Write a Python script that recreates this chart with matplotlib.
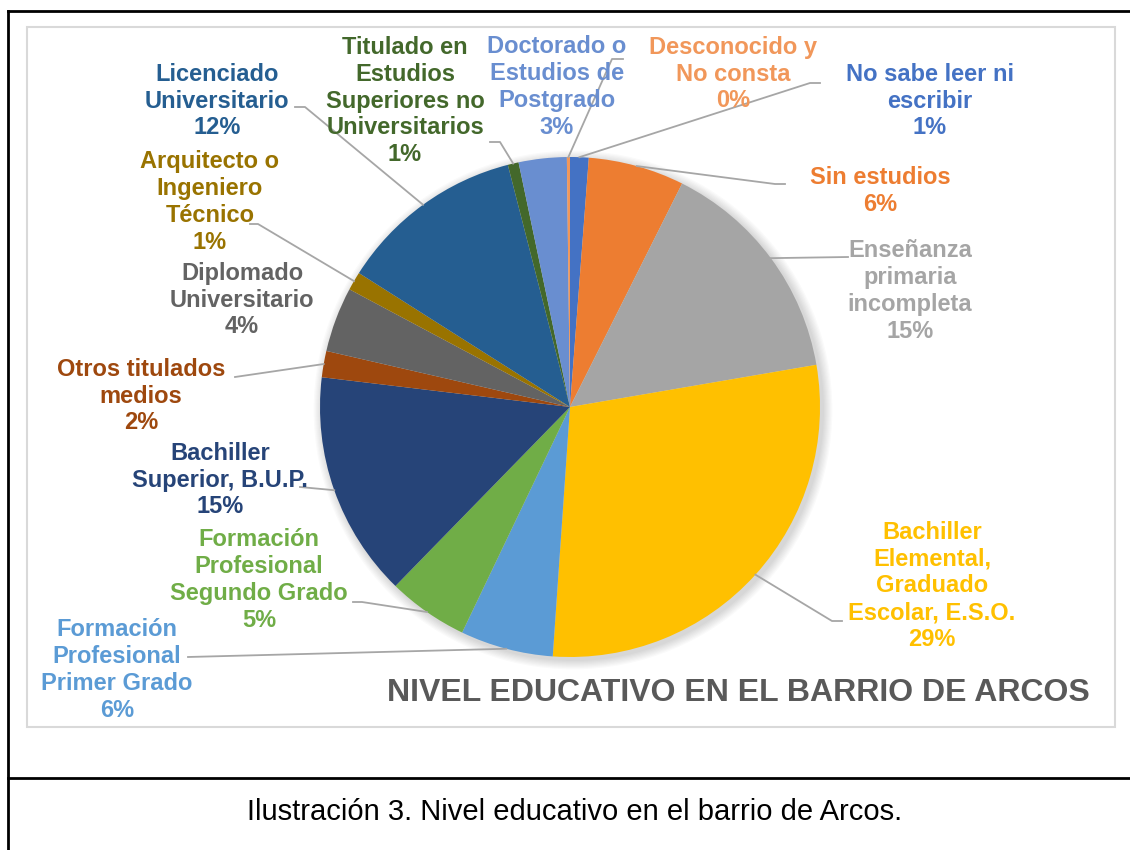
import numpy as np
import matplotlib.pyplot as plt
from matplotlib.patches import Rectangle, Circle

plt.rcParams['font.family'] = ['Liberation Sans', 'DejaVu Sans']

# data, clockwise from the top of the pie
categories = [
    "No sabe leer ni\nescribir",
    "Sin estudios",
    "Enseñanza\nprimaria\nincompleta",
    "Bachiller\nElemental,\nGraduado\nEscolar, E.S.O.",
    "Formación\nProfesional\nPrimer Grado",
    "Formación\nProfesional\nSegundo Grado",
    "Bachiller\nSuperior, B.U.P.",
    "Otros titulados\nmedios",
    "Diplomado\nUniversitario",
    "Arquitecto o\nIngeniero\nTécnico",
    "Licenciado\nUniversitario",
    "Titulado en\nEstudios\nSuperiores no\nUniversitarios",
    "Doctorado o\nEstudios de\nPostgrado",
    "Desconocido y\nNo consta",
]
shares = [1.2, 6.2, 14.9, 28.8, 6.0, 5.2, 14.6, 1.7, 4.2, 1.2, 12.0, 0.7, 3.1, 0.2]
colors = ["#4472C4", "#ED7D31", "#A5A5A5", "#FFC000", "#5B9BD5", "#70AD47",
          "#264478", "#9E480E", "#636363", "#997300", "#255E91", "#43682B",
          "#698ED0", "#F1975A"]

title = "NIVEL EDUCATIVO EN EL BARRIO DE ARCOS"
caption = "Ilustración 3. Nivel educativo en el barrio de Arcos."

# layout (pixel coords, y down)
W, H = 1130, 850
cx, cy, R = 570, 407, 250
label_pos = [(930, 101), (880, 191), (910, 291), (932, 586), (117, 670),
             (259, 580), (220, 480), (141, 396), (242, 300), (210, 202),
             (217, 101), (405, 101), (557, 87), (733, 74)]
# leader line points after the wedge edge (None = no line)
leaders = [[(810, 83), (820, 83)],
           [(775, 184), (785, 184)],
           [(848, 257)],
           [(832, 621), (842, 621)],
           [(188, 657)],
           [(362, 602), (353, 602)],
           [(300, 487)],
           [(235, 377)],
           None,
           [(258, 224), (250, 224)],
           [(305, 107), (295, 107)],
           [(500, 142), (490, 142)],
           None,
           [(612, 59), (623, 59)]]


def Y(y):
    return H - y


fig = plt.figure(figsize=(W / 100, H / 100), dpi=100)
ax = fig.add_axes([0, 0, 1, 1])

# soft shadow
for k in range(8):
    ax.add_patch(Circle((cx + 3, Y(cy) - 3), R + 1 + k * 1.2, color="black",
                        alpha=0.018, lw=0, zorder=1))

wedges, _ = ax.pie(shares, colors=colors, startangle=90, counterclock=False,
                   center=(cx, Y(cy)), radius=R, frame=True,
                   wedgeprops=dict(linewidth=0, zorder=2))

for w, name, val, col, pos, lead in zip(wedges, categories, shares, colors,
                                         label_pos, leaders):
    ax.text(pos[0], Y(pos[1]), f"{name}\n{round(val):.0f}%", color=col,
            ha="center", va="center", fontsize=17, fontweight="bold",
            linespacing=1.22, zorder=5)
    if lead is None:
        continue
    mid = np.deg2rad((w.theta1 + w.theta2) / 2)
    xs = [cx + R * np.cos(mid)] + [p[0] for p in lead]
    ys = [Y(cy) + R * np.sin(mid)] + [Y(p[1]) for p in lead]
    ax.plot(xs, ys, color="#a6a6a6", lw=1.3, zorder=4)

ax.text(738, Y(693), title, color="#595959", ha="center", va="center",
        fontsize=23, fontweight="bold")
ax.text(575, Y(812), caption, color="black", ha="center", va="center",
        fontsize=21)

# chart area border
ax.add_patch(Rectangle((27, Y(727)), 1088, 700, fill=False,
                       edgecolor="#d9d9d9", lw=1.5))
# table border lines
ax.plot([8, 8], [Y(11), Y(850)], color="black", lw=2)
ax.plot([8, W], [Y(11), Y(11)], color="black", lw=2)
ax.plot([8, W], [Y(778), Y(778)], color="black", lw=2)

ax.set_xlim(0, W)
ax.set_ylim(0, H)
ax.set_aspect("equal")
ax.axis("off")

fig.savefig("out.png", dpi=100)
